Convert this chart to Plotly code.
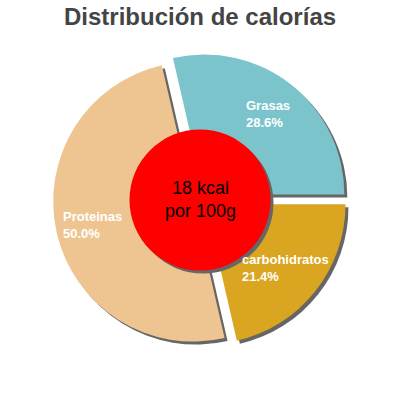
import math
import plotly.graph_objects as go

title_text = "Distribución de calorías"
labels = ["Grasas", "Proteinas", "carbohidratos"]
values = [28.6, 50.0, 21.4]
colors = ["#7cc4cc", "#eec591", "#daa520"]
center_lines = ["18 kcal", "por 100g"]

W = H = 400
CX, CY = 200, 200
R = 140          # pie radius px
PULL = 0.05
SHADOW = 3       # px
HOLE_R = 70.5
FONT = "Liberation Sans, Arial, sans-serif"

total = sum(values)
# first slice should start at 3 o'clock and run counterclockwise
rotation = 90 - values[0] / total * 360.0

half = R * (1 + PULL)

def px_dom(c, h, size):
    return [(c - h) / size, (c + h) / size]

fig = go.Figure()

# shadow pie
fig.add_trace(go.Pie(
    labels=labels, values=values, sort=False, direction="counterclockwise",
    rotation=rotation, pull=[PULL] * len(values), textinfo="none", hoverinfo="skip",
    marker=dict(colors=["#666666"] * len(values), line=dict(width=0)),
    domain=dict(x=px_dom(CX + SHADOW, half, W), y=px_dom(H - (CY + SHADOW), half, H)),
    showlegend=False,
))
# main pie
fig.add_trace(go.Pie(
    labels=labels, values=values, sort=False, direction="counterclockwise",
    rotation=rotation, pull=[PULL] * len(values), textinfo="none",
    marker=dict(colors=colors, line=dict(width=0)),
    domain=dict(x=px_dom(CX, half, W), y=px_dom(H - CY, half, H)),
    showlegend=False,
))

annotations = []
cum = 0.0
label_r = R * 0.735 + R * PULL
for lab, v in zip(labels, values):
    mid = (cum + v / 2) / total * 360.0
    cum += v
    ang = math.radians(mid)
    x = CX + label_r * math.cos(ang)
    y = CY - label_r * math.sin(ang)
    annotations.append(dict(
        x=x / W, y=1 - y / H, xref="paper", yref="paper", showarrow=False,
        text=f"<b>{lab}<br>{v / total * 100:.1f}%</b>", align="left",
        xanchor="center", yanchor="middle",
        font=dict(family=FONT, size=13, color="white"),
    ))

annotations.append(dict(
    x=0.5, y=1 - 17 / H, xref="paper", yref="paper", showarrow=False,
    text=f"<b>{title_text}</b>", xanchor="center", yanchor="middle",
    font=dict(family=FONT, size=24, color="#444444"),
))
annotations.append(dict(
    x=CX / W, y=1 - 199 / H, xref="paper", yref="paper", showarrow=False,
    text="<br>".join(center_lines), xanchor="center", yanchor="middle",
    align="center", font=dict(family=FONT, size=18, color="black"),
))

shapes = [
    dict(type="circle", xref="paper", yref="paper", layer="above",
         x0=(CX + SHADOW - HOLE_R) / W, x1=(CX + SHADOW + HOLE_R) / W,
         y0=1 - (CY + SHADOW + HOLE_R) / H, y1=1 - (CY + SHADOW - HOLE_R) / H,
         fillcolor="#666666", line=dict(width=0)),
    dict(type="circle", xref="paper", yref="paper", layer="above",
         x0=(CX - HOLE_R) / W, x1=(CX + HOLE_R) / W,
         y0=1 - (CY + HOLE_R) / H, y1=1 - (CY - HOLE_R) / H,
         fillcolor="#ff0000", line=dict(width=0)),
]

fig.update_layout(
    width=W, height=H, margin=dict(l=0, r=0, t=0, b=0),
    paper_bgcolor="white", plot_bgcolor="white",
    annotations=annotations, shapes=shapes, showlegend=False,
)
fig.write_html("out.html", config={"displayModeBar": False},
               post_script="document.body.style.margin='0';")
